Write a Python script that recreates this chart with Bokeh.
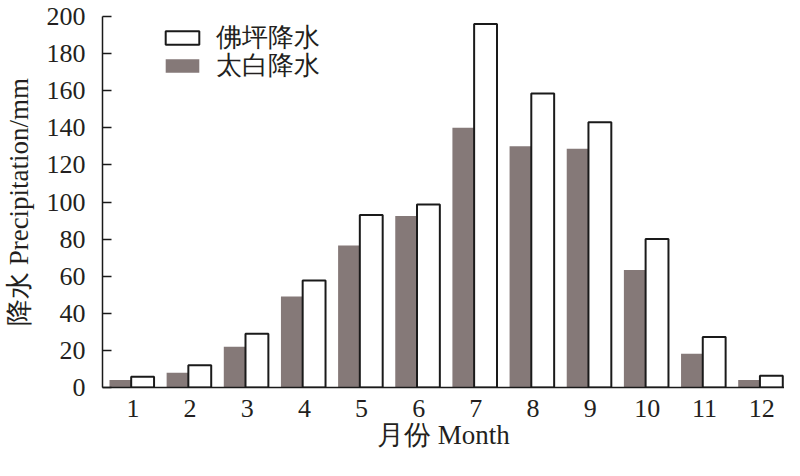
from bokeh.plotting import figure
from bokeh.models import ColumnDataSource, FixedTicker, Legend, LegendItem, Range1d
from bokeh.transform import dodge
from bokeh.embed import file_html
from bokeh.resources import INLINE

months = list(range(1, 13))
month_labels = [str(m) for m in months]
foping = [5.8, 12, 29, 57.7, 93, 98.7, 196, 158.5, 143, 80, 27.2, 6.3]
taibai = [4, 8, 22, 49, 76.6, 92.4, 140, 130, 128.7, 63.4, 18.2, 4.1]
y_ticks = list(range(0, 201, 20))

FONT = "Liberation Serif"
TXT = "#231f20"

source = ColumnDataSource(dict(month=months, foping=foping, taibai=taibai))

p = figure(width=784, height=460, output_backend="svg", toolbar_location=None,
           x_range=Range1d(0.468, 12.4), y_range=Range1d(0, 200),
           min_border_left=101, min_border_right=0, min_border_top=16,
           min_border_bottom=73, background_fill_color="white",
           border_fill_color="white")
p.outline_line_color = None
p.grid.visible = False

r_tb = p.vbar(x=dodge('month', -0.21, range=p.x_range), top='taibai', width=0.4,
              source=source, fill_color="#857978", line_color=None)
r_fp = p.vbar(x=dodge('month', 0.17, range=p.x_range), top='foping', width=0.4,
              source=source, fill_color="white", line_color="#1a1a1a", line_width=2)

xa = p.xaxis[0]
xa.ticker = FixedTicker(ticks=months)
xa.major_label_overrides = {m: l for m, l in zip(months, month_labels)}
xa.major_tick_in = 0
xa.major_tick_out = 0
xa.minor_tick_line_color = None
xa.axis_line_width = 1.5
xa.axis_line_color = "#1a1a1a"
xa.major_label_text_font = FONT
xa.major_label_text_font_size = "26px"
xa.major_label_text_color = TXT
xa.major_label_standoff = 12
xa.axis_label = "月份 Month"
xa.axis_label_text_font = FONT
xa.axis_label_text_font_size = "27px"
xa.axis_label_text_font_style = "normal"
xa.axis_label_text_color = TXT
xa.axis_label_standoff = 0

ya = p.yaxis[0]
ya.ticker = FixedTicker(ticks=y_ticks)
ya.major_tick_in = 9
ya.major_tick_out = 0
ya.major_tick_line_width = 1.5
ya.major_tick_line_color = "#1a1a1a"
ya.minor_tick_line_color = None
ya.axis_line_width = 1.5
ya.axis_line_color = "#1a1a1a"
ya.major_label_text_font = FONT
ya.major_label_text_font_size = "26px"
ya.major_label_text_color = TXT
ya.major_label_standoff = 17
ya.axis_label = "降水 Precipitation/mm"
ya.axis_label_text_font = FONT
ya.axis_label_text_font_size = "27px"
ya.axis_label_text_font_style = "normal"
ya.axis_label_text_color = TXT
ya.axis_label_standoff = 10

common = dict(padding=0, margin=0, spacing=0,
              glyph_width=42, glyph_height=17, label_height=40,
              label_standoff=13, border_line_color=None,
              background_fill_alpha=0,
              label_text_font=FONT, label_text_font_size="26px",
              label_text_color=TXT)
legend_fp = Legend(items=[LegendItem(label="佛坪降水", renderers=[r_fp])],
                   location=(59, 330), **common)
legend_tb = Legend(items=[LegendItem(label="太白降水", renderers=[r_tb])],
                   location=(59, 302), **common)
p.add_layout(legend_fp)
p.add_layout(legend_tb)

open("out.html", "w").write(file_html(p, INLINE))
